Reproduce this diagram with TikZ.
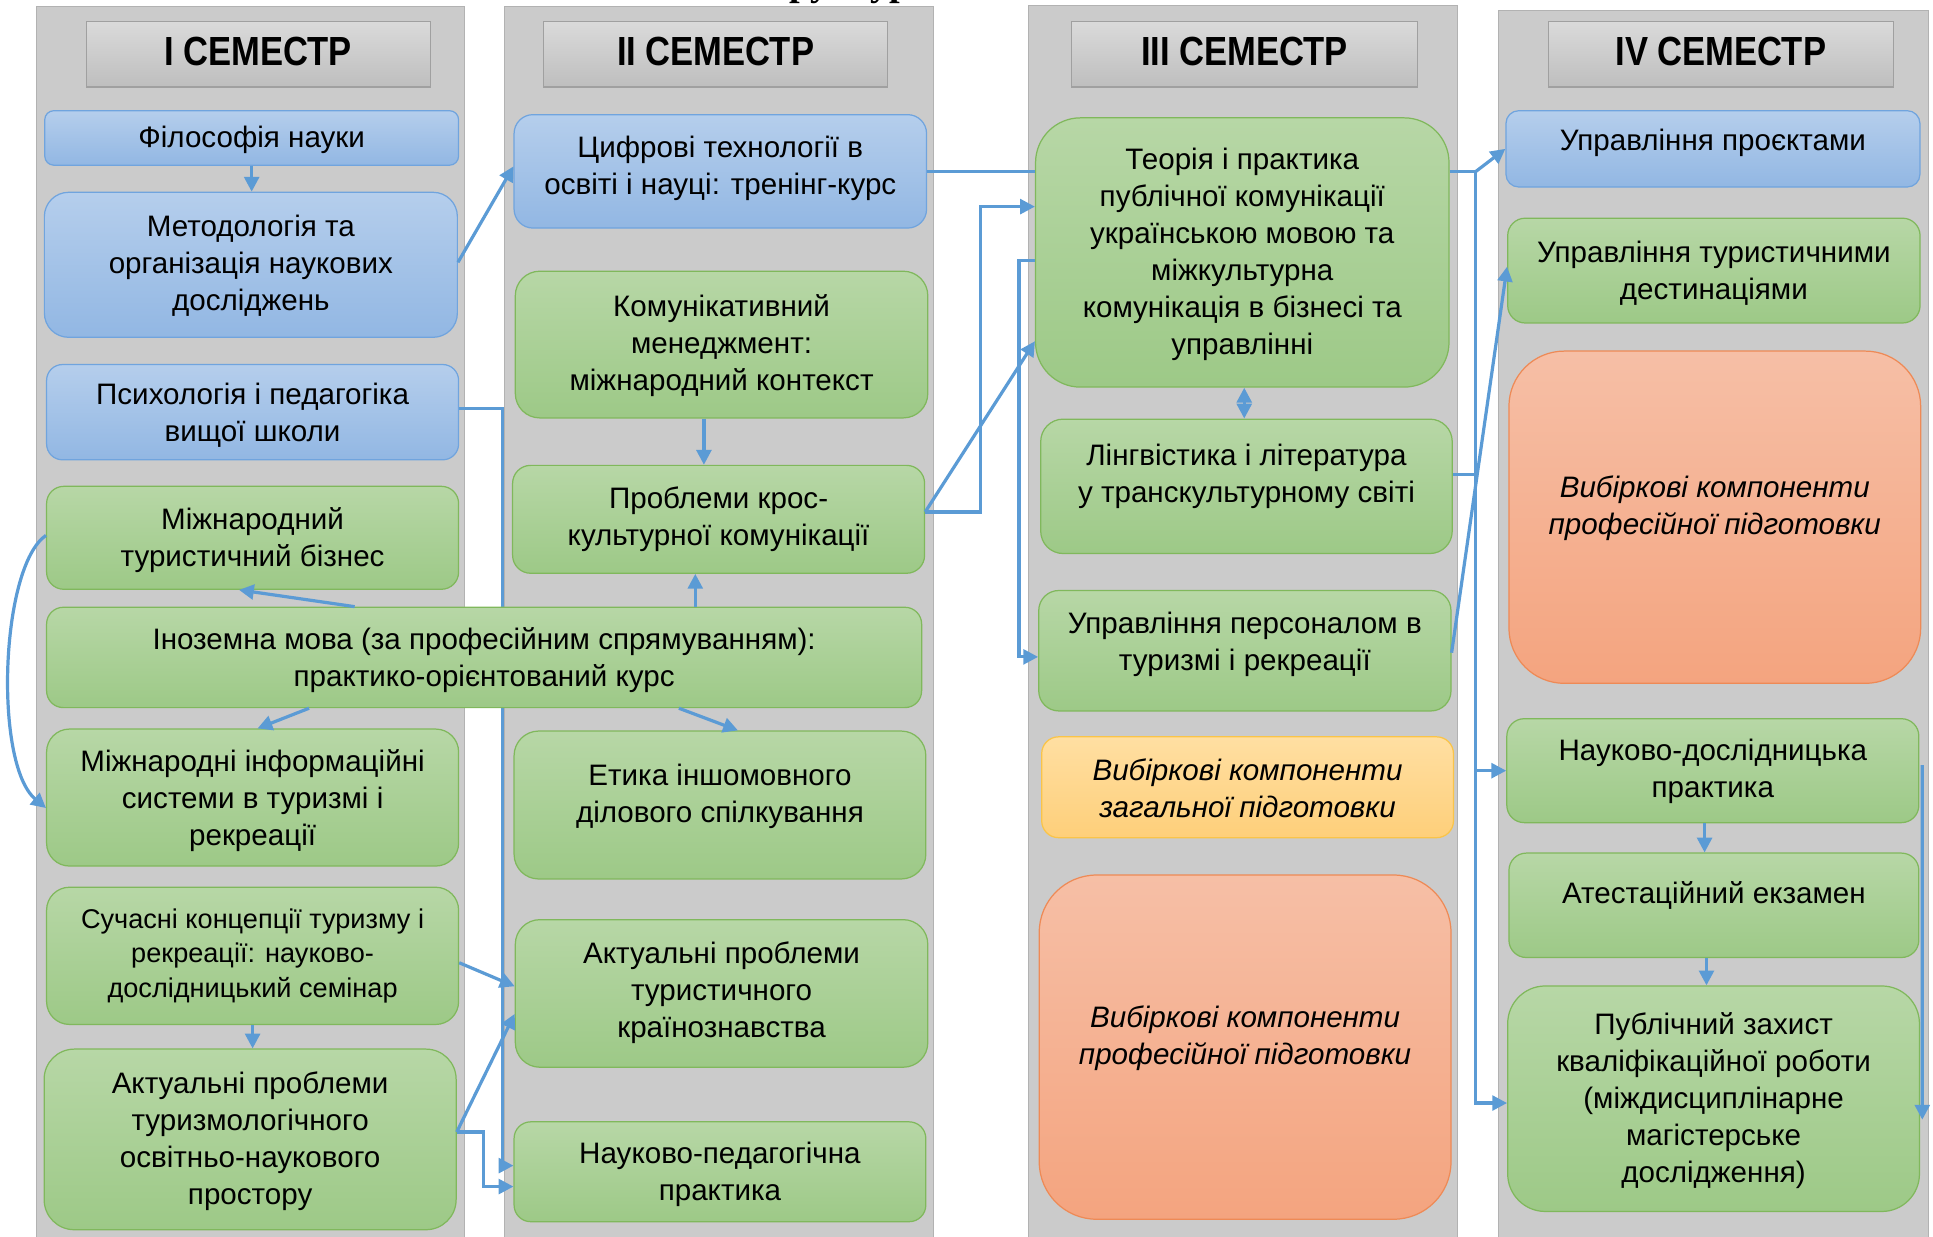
\documentclass[tikz,border=0pt]{standalone}
\usepackage{fontspec}
\setmainfont{Liberation Sans}
\newfontfamily\hdfont[FakeStretch=0.85]{Liberation Sans}
\newfontfamily\ttlfont{Liberation Serif}
\usetikzlibrary{arrows.meta,calc}
\pgfdeclarelayer{colsl}
\pgfdeclarelayer{bglines}
\pgfsetlayers{colsl,bglines,main}

\definecolor{colbg}{RGB}{203,203,203}
\definecolor{colbd}{RGB}{178,178,178}
\definecolor{hdtop}{RGB}{218,218,218}
\definecolor{hdbot}{RGB}{190,190,190}
\definecolor{hdbd}{RGB}{160,160,160}
\definecolor{gtop}{RGB}{183,215,166}
\definecolor{gbot}{RGB}{157,201,135}
\definecolor{gbd}{RGB}{128,184,92}
\definecolor{btop}{RGB}{181,206,236}
\definecolor{bbot}{RGB}{146,183,227}
\definecolor{bbd}{RGB}{112,164,222}
\definecolor{stop}{RGB}{246,191,166}
\definecolor{sbot}{RGB}{244,164,127}
\definecolor{sbd}{RGB}{238,138,86}
\definecolor{ytop}{RGB}{255,223,162}
\definecolor{ybot}{RGB}{254,207,122}
\definecolor{ybd}{RGB}{250,196,72}
\definecolor{arr}{RGB}{91,155,213}

\tikzset{
  colbox/.style={fill=colbg, draw=colbd, line width=0.8pt},
  hdbox/.style={rectangle, draw=hdbd, line width=1pt, top color=hdtop, bottom color=hdbot, inner sep=0pt},
  hdtxt/.style={font=\hdfont\bfseries\fontsize{33}{33}\selectfont, inner sep=0pt},
  basebox/.style={rectangle, line width=1pt, inner sep=0pt},
  gbox/.style={basebox, draw=gbd, top color=gtop, bottom color=gbot},
  bbox/.style={basebox, draw=bbd, top color=btop, bottom color=bbot},
  sbox/.style={basebox, draw=sbd, top color=stop, bottom color=sbot},
  ybox/.style={basebox, draw=ybd, top color=ytop, bottom color=ybot},
  txt/.style={align=center, inner sep=0pt, font=\fontsize{24}{30}\selectfont},
  itx/.style={font=\fontsize{24}{30}\selectfont\itshape},
  smx/.style={font=\fontsize{22}{28}\selectfont},
  nox/.style={},
  conn/.style={draw=arr, line width=2.6pt, -{Triangle[length=12pt,width=12pt]}},
  conntwo/.style={draw=arr, line width=2.6pt, {Triangle[length=12pt,width=12pt]}-{Triangle[length=12pt,width=12pt]}},
  plain/.style={draw=arr, line width=2.6pt},
}

% style, name, x1, y1, x2, y2, text up-shift, text style, text
\newcommand\bx[9]{%
  \pgfmathsetmacro\bxw{(#5)-(#3)}%
  \pgfmathsetmacro\bxh{(#6)-(#4)}%
  \pgfmathsetmacro\bxr{\bxh/6}%
  \pgfmathsetmacro\bxcx{((#3)+(#5))/2}%
  \pgfmathsetmacro\bxcy{((#4)+(#6))/2}%
  \pgfmathsetmacro\bxsh{(#7)-1.8}%
  \node[#1, rounded corners=\bxr pt, minimum width=\bxw pt, minimum height=\bxh pt] (#2) at (\bxcx,\bxcy) {};%
  \node[txt,#8] (#2-t) at ([yshift=\bxsh pt]#2.center) {#9};%
}

\begin{document}
\begin{tikzpicture}[x=1pt,y=-1pt]
\useasboundingbox (0,0) rectangle (1568,1003);

\begin{pgfonlayer}{colsl}
% clipped title remnant
\begin{scope}
  \clip (0,0) rectangle (1568,1003);
  \node[anchor=base west, inner sep=0pt, font=\ttlfont\bfseries\fontsize{31}{31}\selectfont] (title) at (603,-3.5) {Структура};
\end{scope}

% semester columns
\draw[colbox] (29.7,5.4) rectangle (376.6,1012);
\draw[colbox] (409.6,5) rectangle (757,1012);
\draw[colbox] (834,4.5) rectangle (1182,1012);
\draw[colbox] (1215.6,8.7) rectangle (1564,1012);
\end{pgfonlayer}

% headers
\node[hdbox, minimum width=279pt, minimum height=53pt] (h1) at (209.5,44) {};
\node[hdtxt] (h1-t) at (209.5,42) {I СЕМЕСТР};
\node[hdbox, minimum width=279pt, minimum height=53pt] (h2) at (580.5,44) {};
\node[hdtxt] (h2-t) at (580.5,42) {II СЕМЕСТР};
\node[hdbox, minimum width=281pt, minimum height=53pt] (h3) at (1009.5,44) {};
\node[hdtxt] (h3-t) at (1009.5,42) {III СЕМЕСТР};
\node[hdbox, minimum width=280pt, minimum height=53pt] (h4) at (1395.9,44) {};
\node[hdtxt] (h4-t) at (1395.9,42) {IV СЕМЕСТР};

% column I
\bx{bbox}{fil}{36.3}{89.8}{372}{134}{0}{nox}{Філософія науки}
\bx{bbox}{met}{36}{156}{371}{273.6}{1}{nox}{Методологія та\\організація наукових\\досліджень}
\bx{bbox}{psy}{37.8}{295.7}{372}{373}{-1}{nox}{Психологія і педагогіка\\вищої школи}
\bx{gbox}{mtb}{37.8}{394.5}{372}{478}{0}{nox}{Міжнародний\\туристичний бізнес}
\bx{gbox}{ino}{37.8}{492.6}{747.6}{574}{0}{nox}{Іноземна мова (за професійним спрямуванням):\\практико-орієнтований курс}
\bx{gbox}{mis}{37.8}{591.4}{372}{702.5}{-1}{nox}{Міжнародні інформаційні\\системи в туризмі і\\рекреації}
\bx{gbox}{suc}{37.8}{719.7}{372}{831}{2}{smx}{Сучасні концепції туризму і\\рекреації: науково-\\дослідницький семінар}
\bx{gbox}{akt1}{35.8}{851}{370}{997.5}{0}{nox}{Актуальні проблеми\\туризмологічного\\освітньо-наукового\\простору}

% column II
\bx{bbox}{cyf}{417}{93}{751.6}{185}{4}{nox}{Цифрові технології в\\освіті і науці: тренінг-курс}
\bx{gbox}{kom}{418}{220}{752.6}{339}{1}{nox}{Комунікативний\\менеджмент:\\міжнародний контекст}
\bx{gbox}{kro}{415.8}{377.5}{750}{465}{2}{nox}{Проблеми крос-\\культурної комунікації}
\bx{gbox}{ety}{417}{593}{751}{713}{9}{nox}{Етика іншомовного\\ділового спілкування}
\bx{gbox}{akt2}{418}{746}{752.6}{865.7}{2}{nox}{Актуальні проблеми\\туристичного\\країнознавства}
\bx{gbox}{nped}{417}{910}{751}{991}{0}{nox}{Науково-педагогічна\\практика}

% column III
\bx{gbox}{teo}{840}{95.6}{1175.4}{314}{0}{nox}{Теорія і практика\\публічної комунікації\\українською мовою та\\міжкультурна\\комунікація в бізнесі та\\управлінні}
\bx{gbox}{lin}{844.2}{340}{1178}{449}{10}{nox}{Лінгвістика і література\\у транскультурному світі}
\bx{gbox}{upr}{842.6}{479}{1177}{576.7}{7}{nox}{Управління персоналом в\\туризмі і рекреації}
\bx{ybox}{vzp}{845}{597.7}{1179}{679.5}{1}{itx}{Вибіркові компоненти\\загальної підготовки}
\bx{sbox}{vppa}{843}{709.8}{1177}{989}{9}{itx}{Вибіркові компоненти\\професійної підготовки}

% column IV
\bx{bbox}{upp}{1221.6}{89.8}{1557.4}{151.7}{7}{nox}{Управління проєктами}
\bx{gbox}{utd}{1223}{177}{1557.5}{262}{0}{nox}{Управління туристичними\\дестинаціями}
\bx{sbox}{vppb}{1224}{284.8}{1558}{554.3}{9}{itx}{Вибіркові компоненти\\професійної підготовки}
\bx{gbox}{ndp}{1222.3}{583}{1556.5}{667.3}{1}{nox}{Науково-дослідницька\\практика}
\bx{gbox}{ate}{1224}{692}{1556.5}{776.7}{10}{nox}{Атестаційний екзамен}
\bx{gbox}{pub}{1223}{799.8}{1557}{982.7}{0}{nox}{Публічний захист\\кваліфікаційної роботи\\(міждисциплінарне\\магістерське\\дослідження)}

% connector that runs behind the foreign-language box
\begin{pgfonlayer}{bglines}
\draw[conn] ([yshift=3pt]psy.east) -- ++(35,0) |- ([yshift=5pt]nped.west);
\end{pgfonlayer}

% connectors, column I / II
\draw[conn] (fil.south) -- (fil.south |- met.north);
\draw[conn] ([yshift=2pt]met.east) -- ([yshift=4pt]cyf.west);
\draw[conn] ([yshift=6pt]akt1.east) -- ([yshift=-16.6pt]akt2.west);
\draw[conn] ([yshift=6pt]akt1.east) -- ++(22,0) |- ([yshift=-12pt]nped.west);
\draw[conn] ([yshift=-5.6pt]suc.east) -- ([yshift=5.8pt]akt2.west);
\draw[conn] (suc.south) -- (suc.south |- akt1.north);
\draw[conn] ([xshift=-105pt]ino.north) -- ([xshift=-11pt]mtb.south);
\draw[conn] ([xshift=171.3pt]ino.north) -- ([xshift=171.3pt]ino.north |- kro.south);
\draw[conn] ([xshift=-142pt]ino.south) -- ([xshift=4pt]mis.north);
\draw[conn] ([xshift=158pt]ino.south) -- ([xshift=14.6pt]ety.north);
\draw[conn] ([yshift=2pt]mtb.west) .. controls (0,460) and (-5,620) .. ([yshift=-8.5pt]mis.west);
\draw[conn] ([xshift=-14.3pt]kom.south) -- ([xshift=-14.3pt]kom.south |- kro.north);

% connectors, column II / III
\draw[conn] ([yshift=6pt]kro.east) -- ([yshift=-72pt]teo.west);
\draw[conn] ([yshift=6pt]kro.east) -- ++(45,0) |- ([yshift=37.2pt]teo.west);
\draw[plain] (cyf.east) -- (cyf.east -| teo.west);
\draw[conn] ([yshift=-6.7pt]teo.west) -- ++(-13,0) |- ([yshift=-5pt]upr.west);
\draw[conntwo] ([xshift=1.6pt]teo.south) -- ([xshift=1.6pt]teo.south |- lin.north);

% connectors, column III / IV
\coordinate (jn) at ($(teo.east)+(21,-65.5)$);
\draw[plain] ([yshift=65.5pt]teo.east) -- (jn);
\draw[conn] (jn) -- (upp.west);
\draw[conn] (jn) |- ([yshift=-3.5pt]pub.west);
\draw[conn] (jn |- ndp.west) -- (ndp.west);
\draw[plain] ([yshift=9.5pt]lin.east) -- ([yshift=9.5pt]lin.east -| jn);
\draw[conn] ([yshift=-1.6pt]upr.east) -- ([yshift=3.2pt]utd.west);
\draw[conn] ([xshift=-6.7pt]ndp.south) -- ([xshift=-6.7pt]ndp.south |- ate.north);
\draw[conn] ([xshift=-6pt]ate.south) -- ([xshift=-6pt]ate.south |- pub.north);
\draw[conn] ([xshift=2.3pt,yshift=4.6pt]ndp.east) -- ([xshift=1.8pt,yshift=-17pt]pub.east);

\end{tikzpicture}
\end{document}
